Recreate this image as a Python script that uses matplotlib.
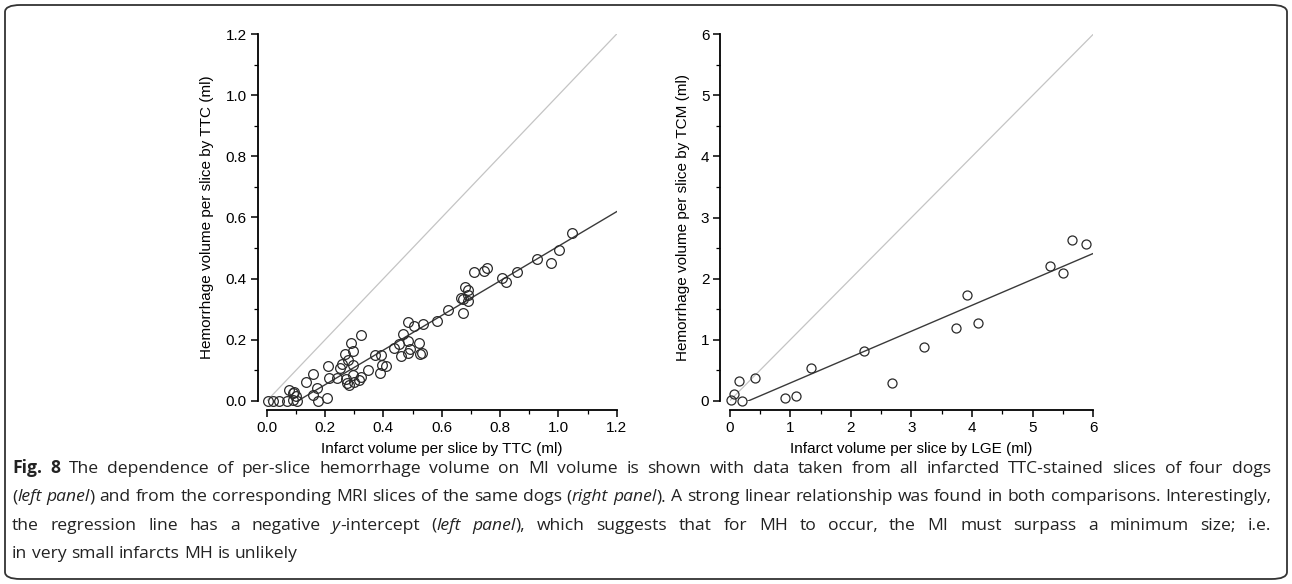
import matplotlib
matplotlib.use("Agg")
import matplotlib.pyplot as plt
from matplotlib.patches import FancyBboxPatch
from matplotlib.ticker import MultipleLocator

# ======================
# DATA
# ======================
ttc_x = [0.006, 0.023, 0.043, 0.071, 0.076, 0.089, 0.091, 0.094, 0.099, 0.105,
         0.134, 0.158, 0.160, 0.173, 0.177, 0.206, 0.209, 0.212, 0.242, 0.251,
         0.259, 0.267, 0.271, 0.275, 0.280, 0.282, 0.289, 0.295, 0.297, 0.297,
         0.300, 0.316, 0.323, 0.323, 0.349, 0.371, 0.388, 0.392, 0.396, 0.408,
         0.437, 0.454, 0.460, 0.466, 0.484, 0.486, 0.486, 0.491, 0.506, 0.523,
         0.525, 0.531, 0.535, 0.585, 0.620, 0.665, 0.674, 0.674, 0.680, 0.689,
         0.691, 0.691, 0.711, 0.746, 0.757, 0.807, 0.821, 0.857, 0.926, 0.975,
         1.003, 1.048]
ttc_hem = [0.000, 0.000, 0.000, 0.000, 0.035, 0.025, 0.004, 0.030, 0.017, 0.000,
           0.061, 0.088, 0.020, 0.041, 0.000, 0.011, 0.115, 0.074, 0.074, 0.107,
           0.121, 0.154, 0.071, 0.058, 0.134, 0.052, 0.191, 0.164, 0.118, 0.085,
           0.063, 0.069, 0.077, 0.216, 0.101, 0.150, 0.090, 0.150, 0.118, 0.115,
           0.174, 0.185, 0.147, 0.219, 0.197, 0.257, 0.158, 0.169, 0.246, 0.191,
           0.154, 0.158, 0.252, 0.263, 0.298, 0.338, 0.335, 0.287, 0.374, 0.363,
           0.347, 0.327, 0.421, 0.425, 0.434, 0.403, 0.388, 0.422, 0.463, 0.450,
           0.494, 0.548]

lge_x = [0.03, 0.08, 0.15, 0.20, 0.42, 0.91, 1.09, 1.34, 2.22, 2.68,
         3.21, 3.73, 3.91, 4.09, 5.28, 5.50, 5.65, 5.87]
tcm_hem = [0.02, 0.12, 0.32, 0.00, 0.37, 0.05, 0.08, 0.54, 0.81, 0.29,
           0.88, 1.19, 1.73, 1.28, 2.21, 2.10, 2.63, 2.56]

# regression lines as drawn (slope, intercept, x start, x end)
ttc_fit = (0.566, -0.060, 0.104, 1.2)
lge_fit = (0.424, -0.13, 0.26, 6.0)

left_ticks = [0.0, 0.2, 0.4, 0.6, 0.8, 1.0, 1.2]
right_ticks = [0, 1, 2, 3, 4, 5, 6]

caption_lines = [
    ([("Fig. 8", "b"), (" The dependence of per-slice hemorrhage volume on MI volume is shown "
      "with data taken from all infarcted TTC-stained slices of four dogs", "n")], True),
    ([("(", "n"), ("left panel", "i"), (") and from the corresponding MRI slices of the same dogs (", "n"),
      ("right panel", "i"), ("). A strong linear relationship was found in both comparisons. "
      "Interestingly,", "n")], True),
    ([("the regression line has a negative ", "n"), ("y", "i"), ("-intercept (", "n"),
      ("left panel", "i"), ("), which suggests that for MH to occur, the MI must surpass a "
      "minimum size; i.e.", "n")], True),
    ([("in very small infarcts MH is unlikely", "n")], False),
]

W, H = 1292, 584
AXFONT = "Liberation Sans"
CAPFONT = "Open Sans"


def setup_axes(ax, lim, ticks, minor, xlabel, ylabel, fmt):
    ax.set_xlim(0, lim)
    ax.set_ylim(0, lim)
    for side in ("top", "right"):
        ax.spines[side].set_visible(False)
    for side in ("left", "bottom"):
        ax.spines[side].set_position(("outward", 6.5))
        ax.spines[side].set_bounds(0, lim)
        ax.spines[side].set_linewidth(1.3)
    ax.set_xticks(ticks)
    ax.set_yticks(ticks)
    ax.set_xticklabels([fmt.format(t) for t in ticks])
    ax.set_yticklabels([fmt.format(t) for t in ticks])
    ax.xaxis.set_minor_locator(MultipleLocator(minor))
    ax.yaxis.set_minor_locator(MultipleLocator(minor))
    ax.tick_params(which="major", length=5, width=1.1, labelsize=11, pad=3)
    ax.tick_params(which="minor", length=3, width=0.9)
    for lab in ax.get_xticklabels() + ax.get_yticklabels():
        lab.set_fontfamily(AXFONT)
    ax.set_xlabel(xlabel, fontsize=11, family=AXFONT, labelpad=5)
    ax.set_ylabel(ylabel, fontsize=11, family=AXFONT, labelpad=8)


def plot_panel(ax, xs, ys, fit, lim, ms):
    ax.plot([0, lim], [0, lim], color="#c4c4c4", lw=0.9, zorder=1)
    slope, icpt, x0, x1 = fit
    ax.plot([x0, x1], [slope * x0 + icpt, slope * x1 + icpt], color="#3a3a3a", lw=1.0, zorder=2)
    ax.plot(xs, ys, "o", ms=ms, mfc="none", mec="#2a2a2a", mew=0.9, clip_on=False, zorder=3)


def split_words(runs):
    words = [[]]
    for txt, st in runs:
        for k, p in enumerate(txt.split(" ")):
            if k > 0:
                words.append([])
            if p:
                words[-1].append((p, st))
    return [w for w in words if w]


def draw_caption(fig, lines, x0, x1, y0, dy, size):
    """Pose le texte mot par mot pour imiter la justification"""
    renderer = fig.canvas.get_renderer()
    styles = {"n": {}, "i": {"style": "italic"}, "b": {"weight": "bold"}}

    def measure(txt, st, sz):
        t = fig.text(0, 0, txt, fontsize=sz, family=CAPFONT, **styles[st])
        w = t.get_window_extent(renderer).width
        t.remove()
        return w

    def natural(runs, sz):
        words = split_words(runs)
        sp = measure("a a", "n", sz) - measure("aa", "n", sz)
        return sum(measure(p, st, sz) for w in words for p, st in w) + sp * (len(words) - 1)

    # taille ajustée pour qu'aucune ligne justifiée ne soit comprimée
    longest = max(natural(runs, size) for runs, just in lines if just)
    size = size * (x1 - x0) * 0.995 / longest

    space = measure("a a", "n", size) - measure("aa", "n", size)
    for i, (runs, justify) in enumerate(lines):
        words = split_words(runs)
        widths = [sum(measure(p, st, size) for p, st in w) for w in words]
        gap = space
        if justify and len(words) > 1:
            gap = (x1 - x0 - sum(widths)) / (len(words) - 1)
        x = x0
        y = 1 - (y0 + i * dy) / H
        for w, wd in zip(words, widths):
            xx = x
            for p, st in w:
                fig.text(xx / W, y, p, fontsize=size, family=CAPFONT, va="baseline",
                         color="#222222", **styles[st])
                xx += measure(p, st, size)
            x += wd + gap


fig = plt.figure(figsize=(W / 100, H / 100), dpi=100)

ax1 = fig.add_axes([266.7 / W, 1 - 401 / H, 350 / W, 367 / H])
plot_panel(ax1, ttc_x, ttc_hem, ttc_fit, 1.2, 7)
setup_axes(ax1, 1.2, left_ticks, 0.1, "Infarct volume per slice by TTC (ml)",
           "Hemorrhage volume per slice by TTC (ml)", "{:.1f}")

ax2 = fig.add_axes([729.5 / W, 1 - 401 / H, 364 / W, 367 / H])
plot_panel(ax2, lge_x, tcm_hem, lge_fit, 6, 6.5)
setup_axes(ax2, 6, right_ticks, 0.5, "Infarct volume per slice by LGE (ml)",
           "Hemorrhage volume per slice by TCM (ml)", "{:d}")

border = FancyBboxPatch((5 / W, 5 / H), 1282 / W, 574 / H, boxstyle="round,pad=0,rounding_size=0.012",
                        transform=fig.transFigure, fill=False, ec="#333333", lw=1.3)
fig.patches.append(border)

draw_caption(fig, caption_lines, 12, 1271, 473, 28.3, 11.5)

fig.savefig("out.png", dpi=100)
